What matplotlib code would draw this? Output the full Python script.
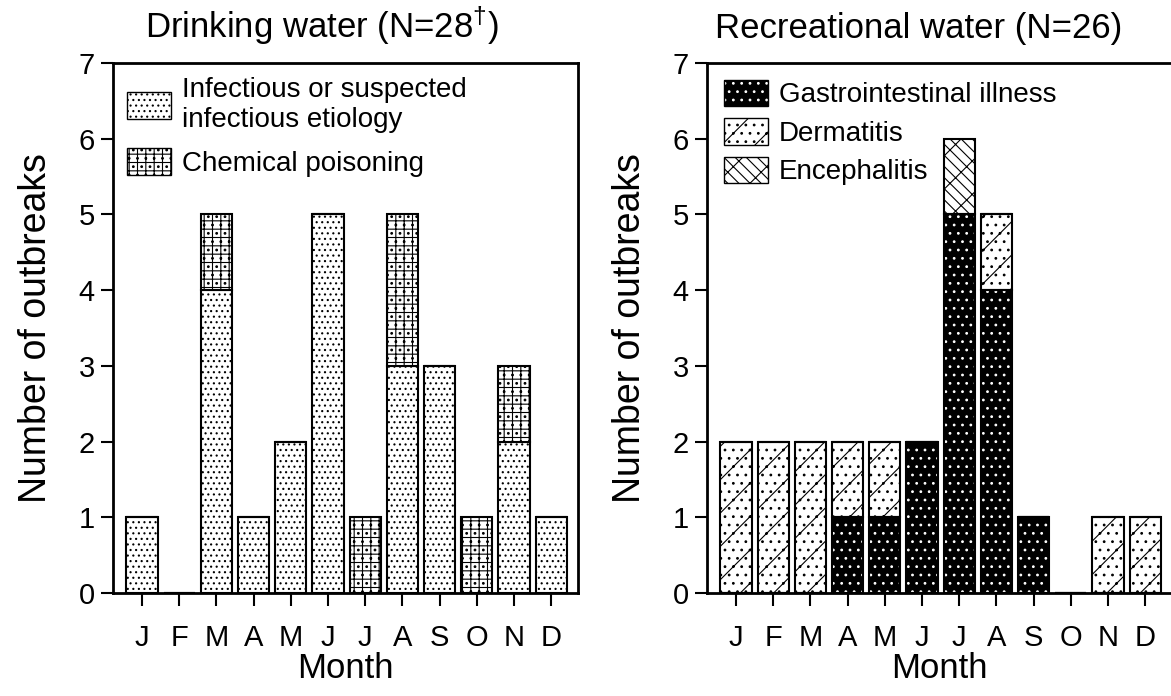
import matplotlib
matplotlib.use("Agg")
import matplotlib.pyplot as plt
from matplotlib.patches import Patch
import numpy as np

plt.rcParams['font.family'] = ['Liberation Sans', 'DejaVu Sans']
plt.rcParams['hatch.linewidth'] = 0.8
plt.rcParams['mathtext.fontset'] = 'custom'
plt.rcParams['mathtext.rm'] = 'Liberation Sans'

months = ["J", "F", "M", "A", "M", "J", "J", "A", "S", "O", "N", "D"]

# drinking water outbreaks per month
dw_infectious = [1, 0, 4, 1, 2, 5, 0, 3, 3, 0, 2, 1]
dw_chemical = [0, 0, 1, 0, 0, 0, 1, 2, 0, 1, 1, 0]

# recreational water outbreaks per month
rw_gastro = [0, 0, 0, 1, 1, 2, 5, 4, 1, 0, 0, 0]
rw_dermatitis = [2, 2, 2, 1, 1, 0, 0, 1, 0, 0, 1, 1]
rw_enceph = [0, 0, 0, 0, 0, 0, 1, 0, 0, 0, 0, 0]

x = np.arange(len(months))
w = 0.84

fig = plt.figure(figsize=(11.71, 6.96), dpi=100)
ax1 = fig.add_axes([113/1171, 103/696, 465/1171, 530/696])
ax2 = fig.add_axes([707/1171, 103/696, 465/1171, 530/696])


def plain_bar(ax, vals, bottom, hatch):
    ax.bar(x, vals, w, bottom=bottom, facecolor="white", edgecolor="black",
           hatch=hatch, linewidth=1.5, zorder=2)


def dark_bar(ax, vals, bottom):
    ax.bar(x, vals, w, bottom=bottom, facecolor="black", edgecolor="white",
           hatch="..", linewidth=0, zorder=2)
    ax.bar(x, vals, w, bottom=bottom, fill=False, edgecolor="black",
           linewidth=1.5, zorder=3)


# left panel
plain_bar(ax1, dw_infectious, 0, "...")
plain_bar(ax1, dw_chemical, dw_infectious, "++..")

# right panel
dark_bar(ax2, rw_gastro, 0)
bot = np.array(rw_gastro)
plain_bar(ax2, rw_dermatitis, bot, "/..")
bot = bot + np.array(rw_dermatitis)
plain_bar(ax2, rw_enceph, bot, "x\\\\")

for ax in (ax1, ax2):
    ax.set_xlim(-0.78, 11.72)
    ax.set_ylim(0, 7)
    ax.set_xticks(x)
    ax.set_xticklabels(months)
    ax.set_yticks(range(8))
    ax.tick_params(axis="both", direction="out", length=9, width=1.5,
                   labelsize=21, pad=4)
    ax.tick_params(axis="x", pad=13)
    for s in ax.spines.values():
        s.set_linewidth(2)
    ax.set_ylabel("Number of outbreaks", fontsize=27, labelpad=18)
    ax.set_xlabel("Month", fontsize=25, labelpad=0)

ax1.set_title("Drinking water (N=28$^{\\dag}$)", fontsize=25, x=0.45, pad=18)
ax2.set_title("Recreational water (N=26)", fontsize=25, x=0.456, pad=18)

h1 = [Patch(facecolor="white", edgecolor="black", hatch="..."),
      Patch(facecolor="white", edgecolor="black", hatch="++..")]
ax1.legend(h1, ["Infectious or suspected\ninfectious etiology", "Chemical poisoning"],
           loc="upper left", frameon=False, fontsize=20, handlelength=1.6,
           handleheight=1.1, handletextpad=0.4, borderaxespad=0.1,
           labelspacing=0.55)

gi = (Patch(facecolor="black", edgecolor="white", hatch="..", linewidth=0),
      Patch(fill=False, edgecolor="black"))
h2 = [gi,
      Patch(facecolor="white", edgecolor="black", hatch="/.."),
      Patch(facecolor="white", edgecolor="black", hatch="x\\\\")]
ax2.legend(h2, ["Gastrointestinal illness", "Dermatitis", "Encephalitis"],
           loc="upper left", frameon=False, fontsize=20, handlelength=1.6,
           handleheight=1.1, handletextpad=0.4, borderaxespad=0.2,
           labelspacing=0.35)

fig.savefig("out.png", dpi=100)
